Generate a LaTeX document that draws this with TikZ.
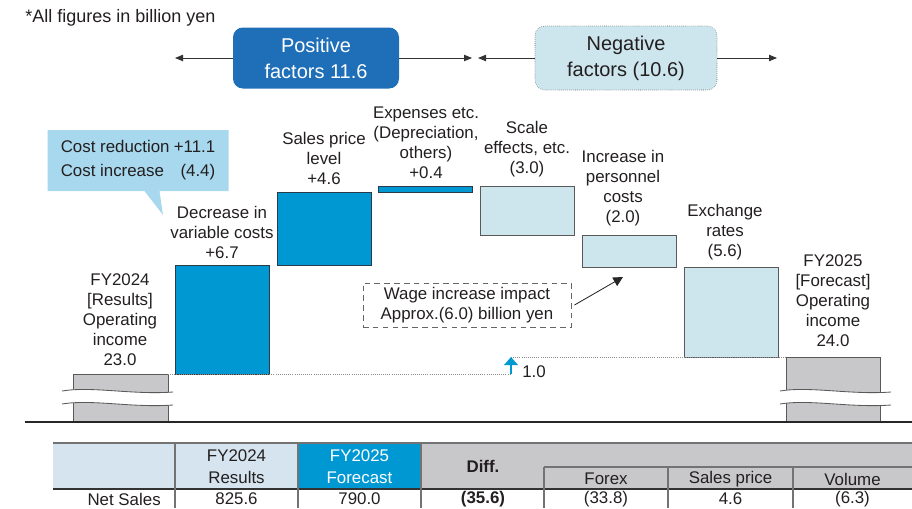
\documentclass[tikz,border=0pt]{standalone}
\usepackage{fontspec}
\setmainfont{Liberation Sans}
\usetikzlibrary{arrows.meta, shapes.callouts}

\definecolor{posblue}{HTML}{1E6FB8}
\definecolor{barblue}{HTML}{0098D3}
\definecolor{negfill}{HTML}{CDE6EE}
\definecolor{calloutfill}{HTML}{A8D8EE}
\definecolor{barline}{HTML}{2B3A48}
\definecolor{greyfill}{HTML}{C8C8CA}
\definecolor{headblue}{HTML}{D5E4EE}
\definecolor{inkgrey}{HTML}{231F20}

\newlength\pxu
\setlength\pxu{0.025cm}

\tikzset{
  lbl/.style={align=center, inner sep=0pt, text=inkgrey, font=\fontsize{12}{14.2}\selectfont},
  posbar/.style={draw=barline, fill=barblue, line width=0.6pt, inner sep=0pt, outer sep=0pt,
    minimum width=94*\pxu, anchor=north west},
  negbar/.style={draw=black!65, fill=negfill, line width=0.6pt, inner sep=0pt, outer sep=0pt,
    minimum width=94*\pxu, anchor=north west},
  basebar/.style={draw=black!65, fill=greyfill, line width=0.6pt, inner sep=0pt, outer sep=0pt,
    anchor=north west},
  factor/.style={rounded corners=7pt, align=center, inner sep=0pt,
    font=\fontsize{14.2}{18.4}\selectfont},
  tip/.style={-{Triangle[length=2mm,width=1.6mm]}, line width=0.6pt, draw=black!80},
  tabline/.style={draw=black!55, line width=0.8pt},
  cell/.style={inner sep=0pt, text=inkgrey, font=\fontsize{12}{15.6}\selectfont, align=center}
}

\begin{document}
\begin{tikzpicture}[x=0.025cm, y=-0.025cm]
    \clip (0,0) rectangle (912,508);

    % Note
    \node[lbl, anchor=west, font=\fontsize{12.8}{15}\selectfont] (note) at (25,18) {*All figures in billion yen};

    % Factor boxes
    \node[factor, fill=posblue, text=white, minimum width=166*\pxu, minimum height=61*\pxu] (pos) at (316,58) {Positive\\factors 11.6};
    \node[factor, fill=negfill, draw=black!60, densely dotted, text=inkgrey, minimum width=182*\pxu, minimum height=64*\pxu] (neg) at (626,58) {Negative\\factors (10.6)};
    \coordinate (posl) at (175,58);
    \coordinate (posr) at (472,58);
    \coordinate (negl) at (478,58);
    \coordinate (negr) at (777,58);
    \draw[tip] (pos.west) -- (posl);
    \draw[tip] (pos.east) -- (posr);
    \draw[tip] (neg.west) -- (negl);
    \draw[tip] (neg.east) -- (negr);

    % Bars
    \node[basebar, minimum width=95*\pxu, minimum height=48*\pxu] (fy24) at (73,374) {};
    \node[posbar, minimum height=109*\pxu] (dec) at (175,265) {};
    \node[posbar, minimum height=73*\pxu] (sp) at (277,192) {};
    \node[posbar, minimum height=6*\pxu] (exp) at (378,186) {};
    \node[negbar, minimum height=49*\pxu] (scale) at (480,186) {};
    \node[negbar, minimum height=32*\pxu] (pers) at (582,235) {};
    \node[negbar, minimum height=90*\pxu] (exch) at (684,267) {};
    \node[basebar, minimum width=94*\pxu, minimum height=65*\pxu] (fy25) at (786,357) {};

    % Breaks in the base bars
    \foreach \wx in {62,780} {
        \fill[white] (\wx,391) .. controls (\wx+30,386) and (\wx+70,395) .. (\wx+111,392)
            -- (\wx+111,405) .. controls (\wx+70,408) and (\wx+30,399) .. (\wx,404) -- cycle;
        \draw[black!65, line width=0.6pt] (\wx,391) .. controls (\wx+30,386) and (\wx+70,395) .. (\wx+111,392);
        \draw[black!65, line width=0.6pt] (\wx,404) .. controls (\wx+30,399) and (\wx+70,408) .. (\wx+111,405);
    }

    % Axis
    \draw[black!85, line width=0.8pt] (25,422) -- (912,422);

    % Levels and net change
    \coordinate (up0) at (511,374);
    \coordinate (up1) at (511,357);
    \draw[black!45, densely dotted, line width=0.5pt] (fy24.north east) -- (up0);
    \draw[black!45, densely dotted, line width=0.5pt] (up1) -- (fy25.north west);
    \draw[barblue, line width=2pt, -{Triangle[length=2mm,width=3.4mm]}] (up0) -- (up1);
    \node[lbl, anchor=west] (net) at (522,372) {1.0};

    % Labels
    \node[lbl] (fy24l) at (120,319.5) {FY2024\\{[Results]}\\Operating\\income\\23.0};
    \node[lbl] (decl) at (222,232) {Decrease in\\variable costs\\+6.7};
    \node[lbl] (spl) at (324,158.5) {Sales price\\level\\+4.6};
    \node[lbl] (expl) at (426,142.5) {Expenses etc.\\(Depreciation,\\others)\\+0.4};
    \node[lbl] (scalel) at (527,149) {Scale\\effects, etc.\\(3.0)};
    \node[lbl] (persl) at (623,188) {Increase in\\personnel\\costs\\(2.0)};
    \node[lbl] (exchl) at (725,232) {Exchange\\rates\\(5.6)};
    \node[lbl] (fy25l) at (833,301) {FY2025\\{[Forecast]}\\Operating\\income\\24.0};

    % Callout
    \node[rectangle callout, fill=calloutfill, inner sep=0pt, minimum width=181*\pxu, minimum height=61*\pxu,
        callout absolute pointer={(163,215)}, callout pointer width=15*\pxu, text=inkgrey,
        font=\fontsize{12}{14.2}\selectfont] (cost) at (138,160.5)
        {\begin{tabular}{@{}l@{\hspace{3pt}}r@{}}Cost reduction & +11.1\\[3pt] Cost increase & (4.4)\end{tabular}};

    % Wage note
    \node[lbl, draw=black!60, dashed, dash pattern=on 4pt off 3pt, line width=0.7pt,
        minimum width=208*\pxu, minimum height=44*\pxu] (wage) at (467,305) {Wage increase impact\\Approx.(6.0) billion yen};
    \coordinate (wtip) at (623,277);
    \draw[-{Triangle[length=2.4mm,width=2.4mm]}, line width=0.6pt, black!85] (wage.east) ++(3,0) -- (wtip);

    % Table
    \fill[headblue] (53,443) rectangle (298,489);
    \fill[barblue] (298,443) rectangle (421,489);
    \fill[greyfill] (421,443) rectangle (912,489);
    \draw[tabline] (53,443) -- (912,443);
    \draw[tabline] (544,467) -- (912,467);
    \draw[black!80, line width=0.8pt] (53,489) -- (912,489);
    \foreach \cx in {175,298,421} \draw[tabline] (\cx,443) -- (\cx,508);
    \foreach \cx in {544,668,793} \draw[tabline] (\cx,467) -- (\cx,508);

    \node[cell] (h24) at (236.5,466.5) {FY2024\\Results};
    \node[cell, text=white] (h25) at (359.5,466.5) {FY2025\\Forecast};
    \node[cell, font=\fontsize{12}{15.6}\selectfont\bfseries] (hdiff) at (483,466) {Diff.};
    \node[cell] (hfx) at (606,479) {Forex};
    \node[cell] (hsp) at (730.5,479) {Sales price};
    \node[cell] (hvol) at (852.5,479) {Volume};

    \node[cell, anchor=east] (rsales) at (161,499) {Net Sales};
    \node[cell] (v24) at (236.5,499) {825.6};
    \node[cell] (v25) at (359.5,499) {790.0};
    \node[cell, font=\fontsize{12}{15.6}\selectfont\bfseries] (vdiff) at (483,499) {(35.6)};
    \node[cell] (vfx) at (606,499) {(33.8)};
    \node[cell] (vsp) at (730.5,499) {4.6};
    \node[cell] (vvol) at (852.5,499) {(6.3)};
\end{tikzpicture}
\end{document}
